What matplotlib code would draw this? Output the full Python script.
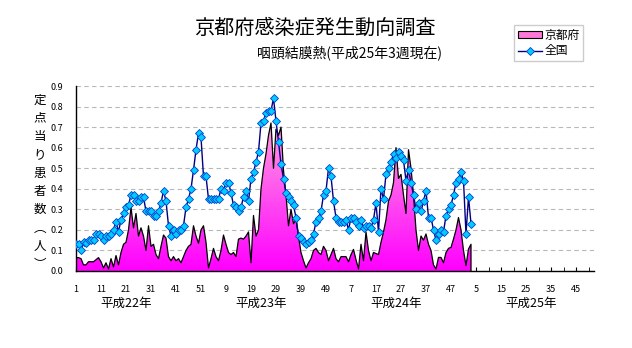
import numpy as np
import matplotlib.pyplot as plt
import matplotlib.colors as mcolors
from matplotlib.patches import Patch
from matplotlib.lines import Line2D

plt.rcParams['font.family'] = ['Noto Sans CJK JP', 'DejaVu Sans']

# 京都府 (定点当り患者数) 平成22年第1週 ~ 平成25年第3週
kyoto = [
    0.065, 0.065, 0.06, 0.03, 0.03, 0.045, 0.045, 0.045, 0.055, 0.065,
    0.045, 0.015, 0.04, 0.01, 0.06, 0.02, 0.075, 0.03, 0.09, 0.13,
    0.14, 0.20, 0.31, 0.21, 0.28, 0.17, 0.21, 0.17, 0.10, 0.22,
    0.12, 0.13, 0.08, 0.06, 0.12, 0.175, 0.16, 0.07, 0.05, 0.07,
    0.05, 0.06, 0.04, 0.07, 0.10, 0.12, 0.13, 0.22, 0.17, 0.135,
    0.20, 0.22, 0.14, 0.015, 0.06, 0.11, 0.07, 0.05, 0.10, 0.175,
    0.13, 0.09, 0.08, 0.09, 0.07, 0.155, 0.16, 0.155, 0.17, 0.19,
    0.04, 0.27, 0.17, 0.20, 0.40, 0.50, 0.57, 0.66, 0.72, 0.50,
    0.69, 0.66, 0.70, 0.49, 0.37, 0.22, 0.30, 0.23, 0.25, 0.17,
    0.09, 0.05, 0.015, 0.04, 0.06, 0.10, 0.11, 0.09, 0.08, 0.12,
    0.10, 0.05, 0.08, 0.11, 0.06, 0.045, 0.07, 0.07, 0.07, 0.045,
    0.08, 0.105, 0.055, 0.01, 0.13, 0.05, 0.19, 0.10, 0.05, 0.09,
    0.085, 0.08, 0.14, 0.19, 0.25, 0.34, 0.37, 0.43, 0.60, 0.45,
    0.47, 0.37, 0.28, 0.59, 0.50, 0.37, 0.20, 0.10, 0.17, 0.15,
    0.18, 0.13, 0.10, 0.03, 0.01, 0.066, 0.066, 0.04, 0.09, 0.11,
    0.115, 0.155, 0.20, 0.26, 0.20, 0.10, 0.026, 0.107, 0.13,
]

# 全国
zenkoku = [
    0.13, 0.13, 0.10, 0.14, 0.135, 0.15, 0.15, 0.15, 0.18, 0.18,
    0.17, 0.15, 0.17, 0.17, 0.18, 0.20, 0.24, 0.19, 0.25, 0.28,
    0.31, 0.32, 0.37, 0.37, 0.34, 0.34, 0.36, 0.36, 0.29, 0.29,
    0.29, 0.27, 0.27, 0.29, 0.33, 0.39, 0.34, 0.22, 0.17, 0.20,
    0.18, 0.20, 0.20, 0.22, 0.31, 0.35, 0.40, 0.49, 0.59, 0.67,
    0.65, 0.46, 0.46, 0.35, 0.35, 0.35, 0.35, 0.35, 0.40, 0.39,
    0.43, 0.43, 0.38, 0.32, 0.31, 0.29, 0.31, 0.36, 0.39, 0.34,
    0.45, 0.48, 0.53, 0.58, 0.72, 0.73, 0.77, 0.78, 0.78, 0.84,
    0.73, 0.63, 0.52, 0.45, 0.38, 0.36, 0.34, 0.32, 0.26, 0.17,
    0.16, 0.14, 0.13, 0.14, 0.15, 0.18, 0.24, 0.26, 0.29, 0.37,
    0.39, 0.50, 0.46, 0.34, 0.26, 0.24, 0.24, 0.24, 0.25, 0.20,
    0.26, 0.26, 0.24, 0.22, 0.25, 0.21, 0.22, 0.22, 0.21, 0.25,
    0.33, 0.19, 0.40, 0.35, 0.47, 0.50, 0.53, 0.57, 0.55, 0.58,
    0.56, 0.54, 0.44, 0.49, 0.43, 0.37, 0.30, 0.33, 0.29, 0.34,
    0.39, 0.26, 0.26, 0.20, 0.15, 0.18, 0.20, 0.19, 0.27, 0.30,
    0.32, 0.37, 0.43, 0.45, 0.48, 0.44, 0.18, 0.36, 0.23,
]

tick_labels = ['1', '11', '21', '31', '41', '51', '9', '19', '29', '39', '49',
               '7', '17', '27', '37', '47', '5', '15', '25', '35', '45']
years = ['平成22年', '平成23年', '平成24年', '平成25年']
n_weeks = 208

fig = plt.figure(figsize=(6.32, 3.48), dpi=100)
ax = fig.add_axes([76 / 632, 77 / 348, 517.5 / 632, 185 / 348])

x = np.arange(len(kyoto))

# 京都府: グラデーション付き面
poly = ax.fill_between(x, kyoto, 0, facecolor='none', edgecolor='none')
grad = np.linspace(0, 1, 256).reshape(-1, 1)
cmap = mcolors.LinearSegmentedColormap.from_list('pk', ['#ff00ff', '#ffb0dc'])
img = ax.imshow(grad, cmap=cmap, origin='lower', aspect='auto',
                extent=[0, len(kyoto) - 1, 0, 0.8], zorder=1)
img.set_clip_path(poly.get_paths()[0], transform=ax.transData)
ax.plot(list(x) + [x[-1]], kyoto + [0], color='black', lw=0.9, zorder=2)

# 全国
ax.plot(x, zenkoku, color='#000080', lw=1.0, marker='D', ms=4.2,
        mfc='#00ccff', mec='#0040d0', mew=0.6, zorder=3)

ax.set_xlim(0, n_weeks - 1)
ax.set_ylim(0, 0.9)

ax.set_axisbelow(True)
ax.yaxis.grid(True, ls=(0, (4, 3)), color='#b8b8b8', lw=0.8)

for s in ['top', 'right']:
    ax.spines[s].set_visible(False)
ax.spines['left'].set_linewidth(1.0)
ax.spines['bottom'].set_linewidth(1.0)

ax.set_xticks(np.arange(0, 201, 10))
ax.set_xticklabels(tick_labels, fontsize=6.5)
ax.set_xticks(np.arange(0, n_weeks, 5), minor=True)
ax.tick_params(axis='x', which='both', direction='in', length=3, pad=10)

ax.set_yticks(np.arange(0, 0.91, 0.1))
ax.set_yticklabels([f'{v:.1f}' for v in np.arange(0, 0.91, 0.1)], fontsize=6.5)
ax.tick_params(axis='y', length=0, pad=9)

# 年ラベル
for i, yl in enumerate(years):
    ax.text(i * 52 + 20 + i * 2, -0.155, yl, ha='center', va='center',
            fontsize=9, transform=ax.transData)

# 縦書きの軸ラベル
ylabel = ['定', '点', '当', 'り', '患', '者', '数', '︵', '人', '︶']
for k, ch in enumerate(ylabel):
    fig.text(40 / 632, 1 - (100 + k * 18.3) / 348, ch, ha='center', va='center',
             fontsize=9)

fig.text(315 / 632, 1 - 28 / 348, '京都府感染症発生動向調査', ha='center', va='center',
         fontsize=14.5)
fig.text(350 / 632, 1 - 53 / 348, '咽頭結膜熱(平成25年3週現在)', ha='center', va='center',
         fontsize=10)

handles = [
    Patch(facecolor='#ff77d8', edgecolor='black', lw=0.8),
    Line2D([], [], color='#000080', lw=1.0, marker='D', ms=4,
           mfc='#00ccff', mec='#0040d0', mew=0.6),
]
leg = fig.legend(handles, ['京都府', '全国'], loc='upper left',
                 bbox_to_anchor=(514 / 632, 1 - 25 / 348), fontsize=8.5,
                 frameon=True, fancybox=False, handlelength=2.1, handleheight=0.5,
                 handletextpad=0.2, labelspacing=0.25, borderpad=0.3,
                 borderaxespad=0)
leg.get_frame().set_edgecolor('#c0c0c0')
leg.get_frame().set_linewidth(1.0)

fig.savefig('out.png', dpi=100)
